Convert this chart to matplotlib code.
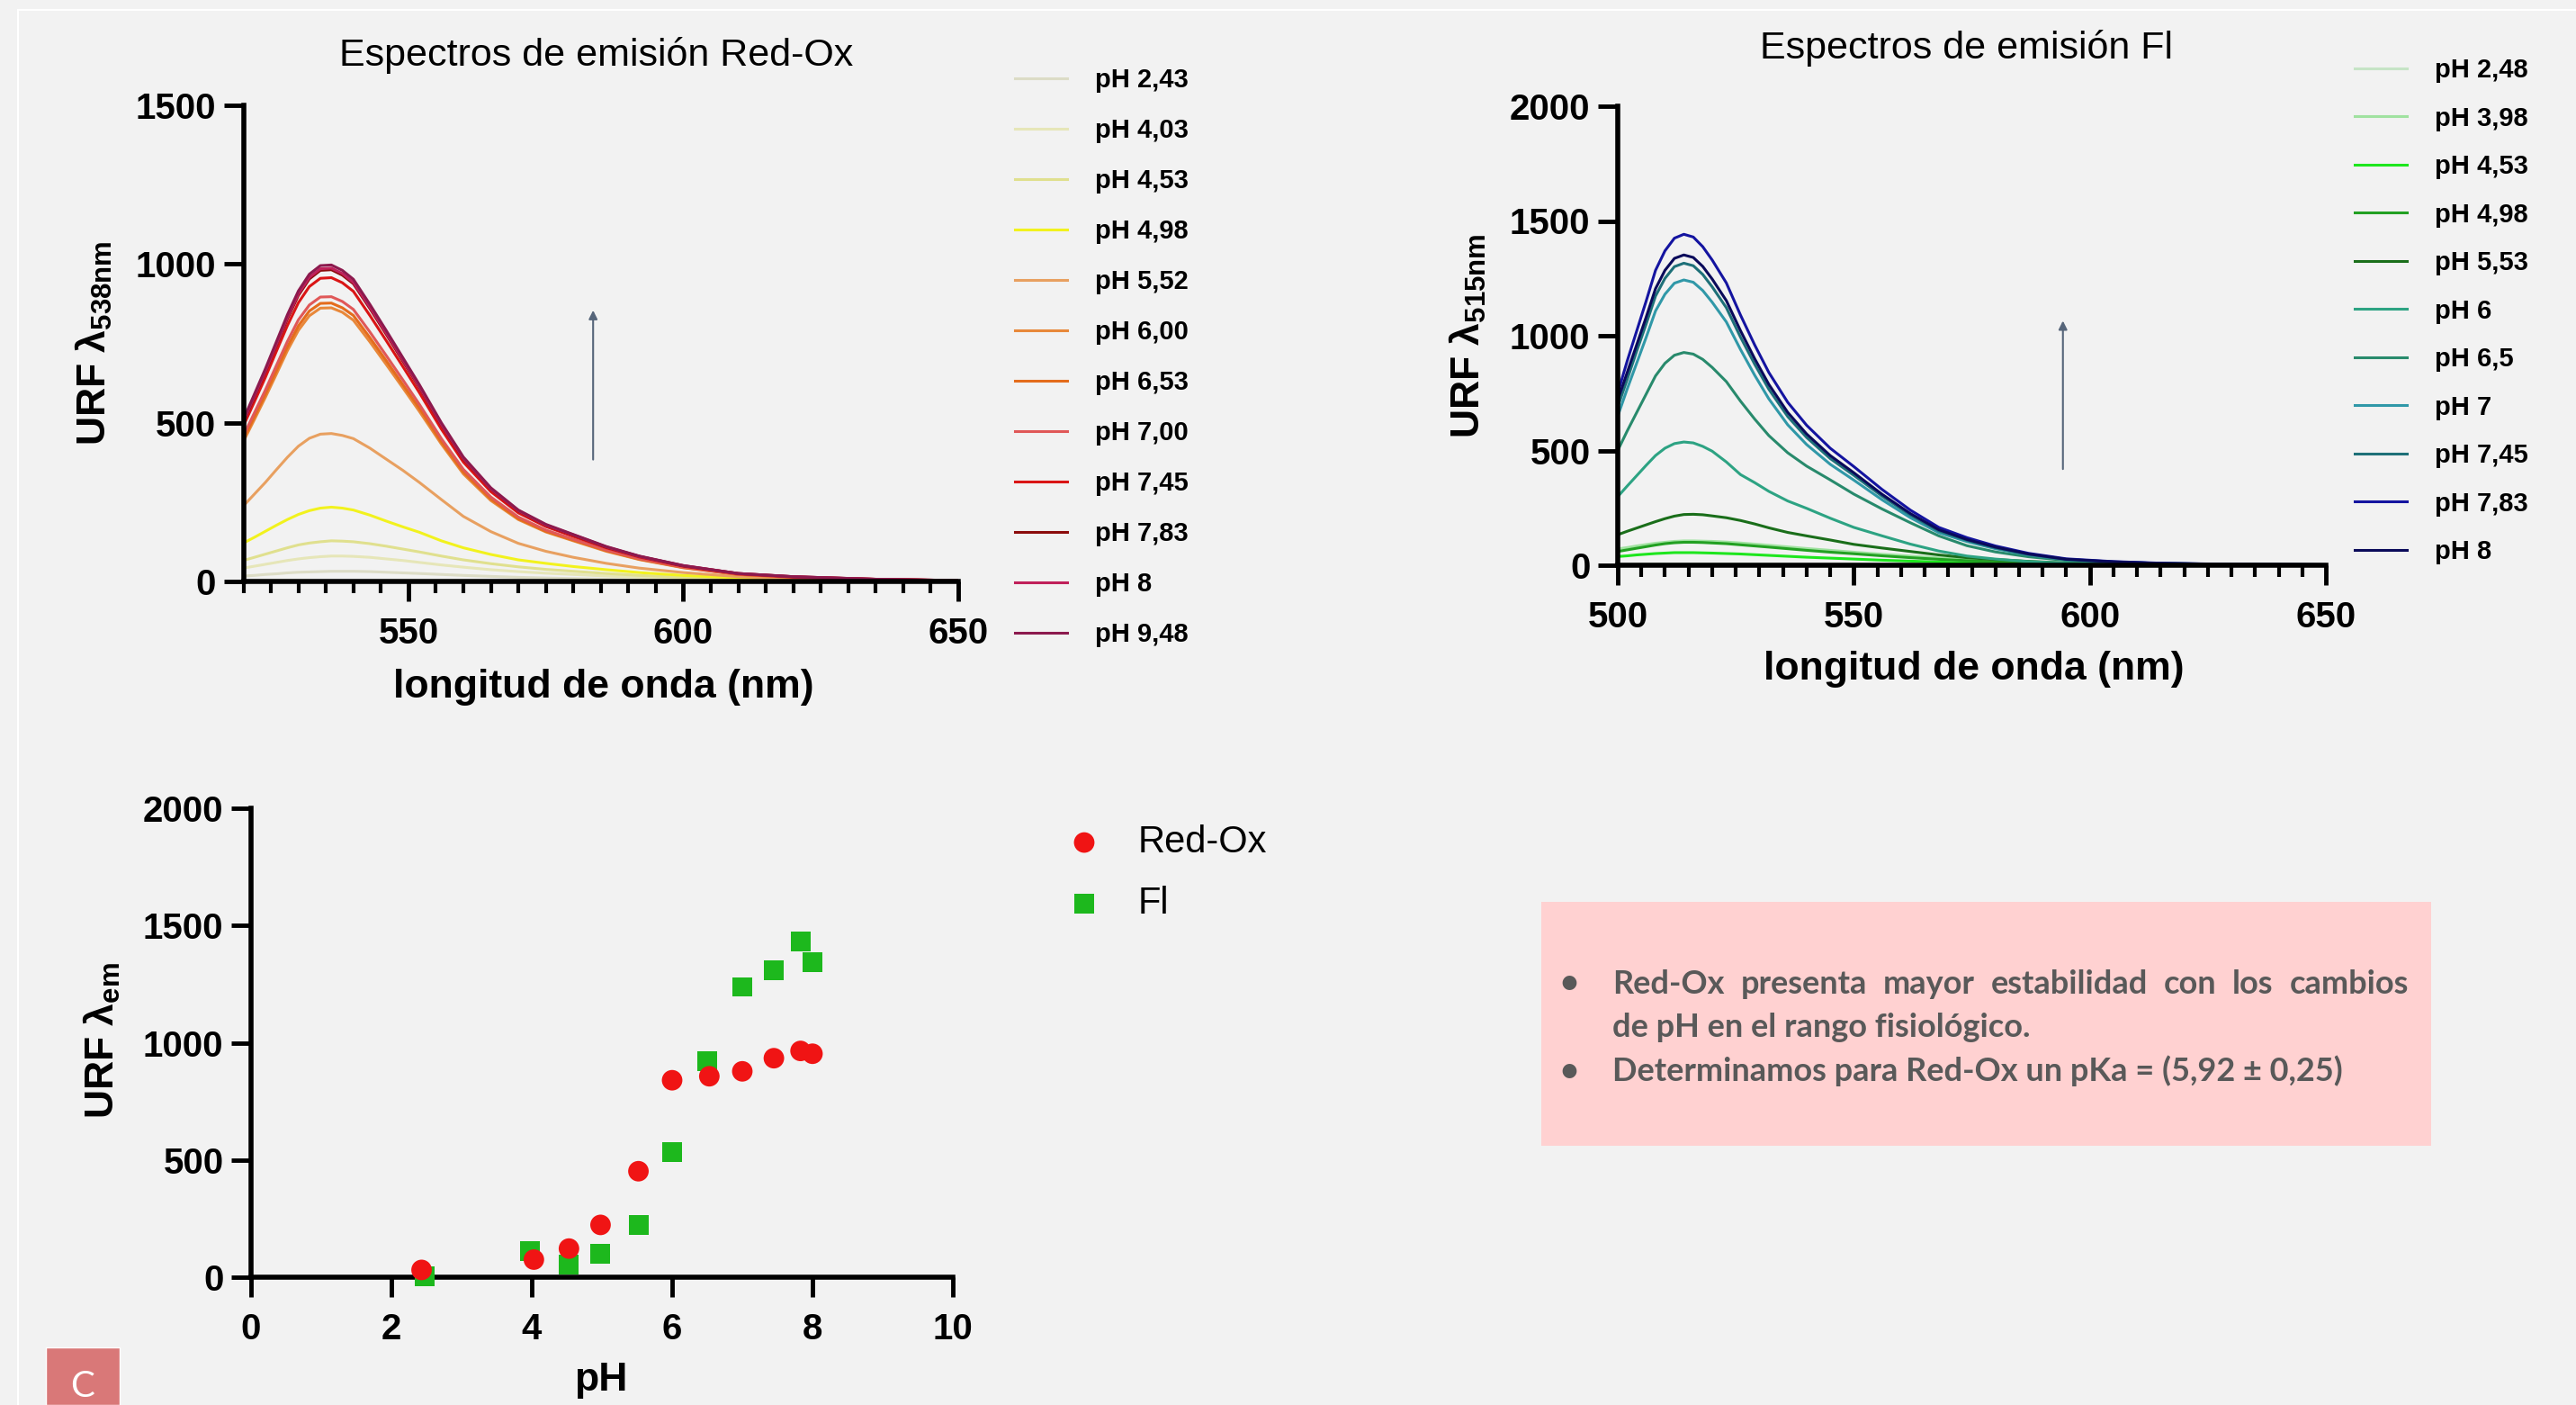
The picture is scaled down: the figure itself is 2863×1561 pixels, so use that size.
import matplotlib
matplotlib.use('Agg')
import matplotlib.pyplot as plt
from matplotlib.lines import Line2D
from matplotlib.patches import Rectangle
from matplotlib.ticker import MultipleLocator

W, H = 2863, 1561
BG = '#F2F2F2'
SANS = ['Liberation Sans', 'DejaVu Sans']

# ---- Red-Ox emission spectra ----
redox_wl = [520, 522, 524, 526, 528, 530, 532, 534, 536, 538, 540, 543, 546, 549,
            552, 556, 560, 565, 570, 575, 580, 586, 592, 600, 610, 620, 635, 650]
redox_labels = ['pH 2,43', 'pH 4,03', 'pH 4,53', 'pH 4,98', 'pH 5,52', 'pH 6,00',
                'pH 6,53', 'pH 7,00', 'pH 7,45', 'pH 7,83', 'pH 8', 'pH 9,48']
redox_colors = ['#DCDCC6', '#E6E6B8', '#E0E08E', '#F2F21E', '#E8A060', '#E8883A',
                '#E46C1C', '#E05858', '#DA1515', '#8C0C0C', '#C0205A', '#8C1A4E']
redox_spectra = [
    [17, 19, 22, 24, 27, 29, 30, 31, 32, 32, 32, 31, 29, 27, 25, 22, 19, 16, 13, 11, 9, 7, 5, 4, 2, 1, 1, 0],
    [42, 48, 54, 60, 66, 71, 75, 78, 80, 80, 79, 76, 71, 66, 60, 52, 45, 37, 31, 26, 22, 17, 13, 9, 5, 3, 2, 1],
    [66, 76, 86, 96, 106, 115, 121, 125, 128, 127, 125, 119, 111, 102, 93, 80, 68, 56, 46, 38, 32, 25, 19, 13, 8, 5, 2, 1],
    [121, 139, 158, 177, 195, 211, 223, 231, 234, 231, 225, 209, 190, 172, 155, 128, 106, 85, 68, 57, 47, 37, 28, 19, 11, 6, 3, 1],
    [238, 275, 312, 352, 391, 426, 451, 464, 466, 460, 450, 420, 385, 350, 312, 258, 205, 157, 120, 95, 76, 57, 42, 28, 15, 9, 4, 2],
    [441, 510, 580, 653, 727, 791, 837, 861, 862, 848, 823, 755, 683, 610, 536, 433, 339, 255, 195, 156, 128, 95, 69, 43, 22, 13, 6, 3],
    [449, 519, 590, 664, 739, 805, 852, 876, 877, 862, 838, 768, 695, 620, 546, 440, 345, 260, 198, 158, 130, 97, 70, 44, 22, 13, 6, 3],
    [459, 531, 603, 680, 756, 824, 871, 896, 897, 882, 857, 786, 711, 635, 558, 450, 353, 266, 203, 162, 133, 99, 72, 45, 23, 14, 6, 3],
    [490, 566, 643, 725, 806, 878, 929, 955, 957, 941, 914, 838, 758, 677, 595, 480, 376, 283, 216, 173, 142, 106, 77, 48, 24, 14, 7, 3],
    [502, 581, 660, 744, 827, 901, 953, 980, 982, 965, 938, 860, 778, 694, 611, 493, 386, 291, 222, 177, 146, 108, 79, 49, 25, 15, 7, 3],
    [505, 584, 663, 747, 832, 906, 958, 985, 987, 970, 942, 864, 782, 698, 614, 495, 388, 292, 223, 178, 147, 109, 79, 50, 25, 15, 7, 3],
    [510, 590, 670, 755, 840, 915, 968, 995, 997, 980, 952, 873, 790, 705, 620, 500, 392, 295, 225, 180, 148, 110, 80, 50, 25, 15, 7, 3],
]

# ---- Fl emission spectra ----
fl_wl = [500, 502, 504, 506, 508, 510, 512, 514, 516, 518, 520, 523, 526, 529, 532,
         536, 540, 545, 550, 556, 562, 568, 574, 580, 587, 595, 605, 615, 630, 650]
fl_labels = ['pH 2,48', 'pH 3,98', 'pH 4,53', 'pH 4,98', 'pH 5,53', 'pH 6',
             'pH 6,5', 'pH 7', 'pH 7,45', 'pH 7,83', 'pH 8']
fl_colors = ['#C6E4C6', '#A0E2A0', '#1EE61E', '#22A022', '#1A6E1A', '#2DA383',
             '#288A6C', '#3098A8', '#1E7078', '#1414A0', '#0A0A5A']
fl_spectra = [
    [3, 4, 4, 5, 5, 5, 5, 5, 5, 5, 5, 5, 5, 4, 4, 4, 3, 3, 3, 2, 2, 1, 1, 1, 1, 0, 0, 0, 0, 0],
    [71, 77, 84, 90, 96, 100, 104, 106, 106, 105, 104, 101, 97, 92, 87, 80, 73, 65, 57, 48, 40, 32, 25, 19, 13, 8, 5, 3, 1, 0],
    [38, 41, 45, 48, 51, 53, 55, 55, 55, 54, 53, 51, 49, 46, 43, 39, 35, 31, 27, 22, 18, 14, 11, 8, 5, 3, 2, 1, 0, 0],
    [60, 67, 74, 81, 88, 94, 98, 100, 100, 99, 97, 94, 89, 84, 79, 72, 65, 57, 50, 41, 33, 26, 20, 15, 10, 6, 4, 2, 1, 0],
    [133, 148, 162, 176, 190, 203, 214, 221, 222, 220, 215, 207, 195, 180, 163, 143, 128, 110, 91, 75, 60, 45, 33, 25, 17, 10, 6, 3, 1, 0],
    [299, 345, 390, 435, 478, 510, 530, 537, 533, 518, 497, 450, 395, 360, 322, 280, 248, 205, 165, 128, 92, 62, 40, 27, 16, 9, 5, 3, 1, 0],
    [500, 585, 665, 745, 825, 880, 915, 927, 920, 897, 862, 800, 715, 637, 565, 490, 432, 372, 310, 245, 185, 128, 85, 58, 37, 21, 12, 7, 3, 1],
    [650, 768, 880, 992, 1108, 1181, 1229, 1243, 1233, 1197, 1146, 1060, 940, 828, 725, 612, 526, 440, 371, 285, 207, 142, 103, 72, 45, 24, 14, 8, 3, 2],
    [690, 810, 932, 1050, 1173, 1250, 1301, 1316, 1305, 1267, 1213, 1122, 994, 876, 767, 648, 557, 465, 392, 301, 219, 150, 109, 76, 47, 25, 14, 8, 4, 2],
    [750, 890, 1020, 1150, 1285, 1370, 1425, 1442, 1430, 1388, 1330, 1230, 1090, 960, 840, 710, 610, 510, 430, 330, 240, 165, 120, 84, 52, 28, 16, 9, 4, 2],
    [720, 840, 960, 1080, 1205, 1285, 1337, 1352, 1341, 1302, 1247, 1153, 1022, 900, 788, 666, 572, 478, 403, 309, 225, 155, 112, 79, 49, 26, 15, 8, 4, 2],
]

# ---- URF vs pH ----
ph_redox = [2.43, 4.03, 4.53, 4.98, 5.52, 6.00, 6.53, 7.00, 7.45, 7.83, 8.00]
urf_redox = [31, 75, 122, 223, 452, 840, 857, 878, 934, 965, 953]
ph_fl = [2.48, 3.98, 4.53, 4.98, 5.53, 6.00, 6.50, 7.00, 7.45, 7.83, 8.00]
urf_fl = [3, 110, 52, 101, 221, 534, 922, 1238, 1310, 1431, 1343]

notes = ['Red-Ox presenta mayor estabilidad con los cambios',
         'de pH en el rango fisiológico.',
         'Determinamos para Red-Ox un pKa = (5,92 ± 0,25)']

plt.rcParams['font.family'] = SANS
plt.rcParams['mathtext.default'] = 'regular'


def fx(px):
    return px / W


def fy(py):
    return 1 - py / H


def px_box(left, top, right, bottom):
    return [fx(left), fy(bottom), (right - left) / W, (bottom - top) / H]


def style_axis(ax):
    """Prism-like axis: only left/bottom spines, thick black ticks."""
    ax.set_facecolor('none')
    for s in ['top', 'right']:
        ax.spines[s].set_visible(False)
    for s in ['left', 'bottom']:
        ax.spines[s].set_linewidth(4)
        ax.spines[s].set_capstyle('projecting')
    ax.tick_params(which='major', direction='out', length=16, width=3.5, labelsize=29)
    ax.tick_params(which='minor', direction='out', length=9, width=3)
    ax.tick_params(axis='x', which='both', pad=12)
    ax.tick_params(axis='y', which='both', pad=6)
    for lab in ax.get_xticklabels() + ax.get_yticklabels():
        lab.set_fontweight('bold')


def spectra_legend(ax, left, top, spacing):
    ax.legend(loc='upper left', bbox_to_anchor=(fx(left), fy(top)),
              bbox_transform=fig.transFigure, frameon=False,
              prop=dict(family=SANS, weight='bold', size=21),
              handlelength=2.0, handletextpad=1.05, labelspacing=spacing,
              borderpad=0, borderaxespad=0)


fig = plt.figure(figsize=(W / 100, H / 100), dpi=100, facecolor=BG)

# slide frame
fig.add_artist(Line2D([fx(20), fx(20)], [fy(11), 0], color='white', lw=1.5, transform=fig.transFigure))
fig.add_artist(Line2D([fx(20), 1], [fy(11), fy(11)], color='white', lw=1.5, transform=fig.transFigure))

# ---- top left: Red-Ox spectra ----
ax1 = fig.add_axes(px_box(270.5, 117, 1065, 646))
for vals, lab, col in zip(redox_spectra, redox_labels, redox_colors):
    ax1.plot(redox_wl, vals, color=col, lw=2.2, label=lab)
ax1.set_xlim(520, 650)
ax1.set_ylim(0, 1500)
ax1.set_xticks([550, 600, 650])
ax1.xaxis.set_minor_locator(MultipleLocator(5))
ax1.set_yticks([0, 500, 1000, 1500])
ax1.annotate('', xy=(583.6, 862), xytext=(583.6, 376),
             arrowprops=dict(arrowstyle='-|>', color='#56657A', lw=1.5, mutation_scale=14))
style_axis(ax1)
spectra_legend(ax1, 1128, 75, 0.96)
fig.text(fx(663), fy(62), 'Espectros de emisión Red-Ox', ha='center', va='center', fontsize=31)
fig.text(fx(671), fy(763), 'longitud de onda (nm)', ha='center', va='center', fontsize=32, fontweight='bold')
fig.text(fx(104), fy(381), 'URF λ$_{538nm}$', ha='center', va='center', rotation=90,
         fontsize=32, fontweight='bold')

# ---- top right: Fl spectra ----
ax2 = fig.add_axes(px_box(1798, 118, 2585, 628))
for vals, lab, col in zip(fl_spectra, fl_labels, fl_colors):
    ax2.plot(fl_wl, vals, color=col, lw=2.2, label=lab)
ax2.set_xlim(500, 650)
ax2.set_ylim(0, 2000)
ax2.set_xticks([500, 550, 600, 650])
ax2.xaxis.set_minor_locator(MultipleLocator(5))
ax2.set_yticks([0, 500, 1000, 1500, 2000])
ax2.annotate('', xy=(594.3, 1076), xytext=(594.3, 408),
             arrowprops=dict(arrowstyle='-|>', color='#56657A', lw=1.5, mutation_scale=14))
style_axis(ax2)
spectra_legend(ax2, 2617, 64, 0.875)
fig.text(fx(2186), fy(53), 'Espectros de emisión Fl', ha='center', va='center', fontsize=31)
fig.text(fx(2194), fy(743), 'longitud de onda (nm)', ha='center', va='center', fontsize=32, fontweight='bold')
fig.text(fx(1631), fy(373), 'URF λ$_{515nm}$', ha='center', va='center', rotation=90,
         fontsize=32, fontweight='bold')

# ---- bottom left: URF vs pH ----
ax3 = fig.add_axes(px_box(279, 898, 1059, 1419))
ax3.scatter(ph_fl, urf_fl, marker='s', s=250, color='#1DB81D', edgecolors='none',
            label='Fl', clip_on=False, zorder=3)
ax3.scatter(ph_redox, urf_redox, marker='o', s=270, color='#F01414', edgecolors='none',
            label='Red-Ox', clip_on=False, zorder=4)
ax3.set_xlim(0, 10)
ax3.set_ylim(0, 2000)
ax3.set_xticks([0, 2, 4, 6, 8, 10])
ax3.set_yticks([0, 500, 1000, 1500, 2000])
style_axis(ax3)
h, l = ax3.get_legend_handles_labels()
ax3.legend(h[::-1], l[::-1], loc='upper left', bbox_to_anchor=(fx(1190), fy(916)),
           bbox_transform=fig.transFigure, frameon=False, fontsize=30, scatterpoints=1,
           handlelength=0.72, handletextpad=1.08, labelspacing=0.68, borderpad=0, borderaxespad=0)
fig.text(fx(668), fy(1534), 'pH', ha='center', va='center', fontsize=32, fontweight='bold')
fig.text(fx(113), fy(1156), 'URF λ$_{em}$', ha='center', va='center', rotation=90,
         fontsize=32, fontweight='bold')

# ---- conclusions box ----
fig.add_artist(Rectangle((fx(1713), fy(1273)), (2702 - 1713) / W, (1273 - 1002) / H,
                         transform=fig.transFigure, facecolor='#FFD1D1', edgecolor='none'))
txt = dict(fontsize=26, fontweight='bold', color='#595959', family=['Lato', 'DejaVu Sans'], va='center')
line_y = [1093, 1142, 1190]
for py in [line_y[0], line_y[2]]:
    fig.text(fx(1744), fy(py), '•', ha='center', **txt)

# first line is justified between the text margins
renderer = fig.canvas.get_renderer()
words = notes[0].split()
objs = [fig.text(0, fy(line_y[0]), w, ha='left', **txt) for w in words]
widths = [o.get_window_extent(renderer).width for o in objs]
gap = (2677 - 1792 - sum(widths)) / (len(words) - 1)
x = 1792
for o, w in zip(objs, widths):
    o.set_x(fx(x))
    x += w + gap
fig.text(fx(1792), fy(line_y[1]), notes[1], ha='left', **txt)
fig.text(fx(1792), fy(line_y[2]), notes[2], ha='left', **txt)

# section tag
fig.add_artist(Rectangle((fx(51), 0), (133 - 51) / W, (H - 1497) / H, transform=fig.transFigure,
                         facecolor='#D97878', edgecolor='white', lw=1))
fig.text(fx(92), fy(1541), 'C', ha='center', va='center', color='white', fontsize=29,
         family=['Lato', 'DejaVu Sans'])

fig.savefig('out.png', dpi=100, facecolor=BG)
